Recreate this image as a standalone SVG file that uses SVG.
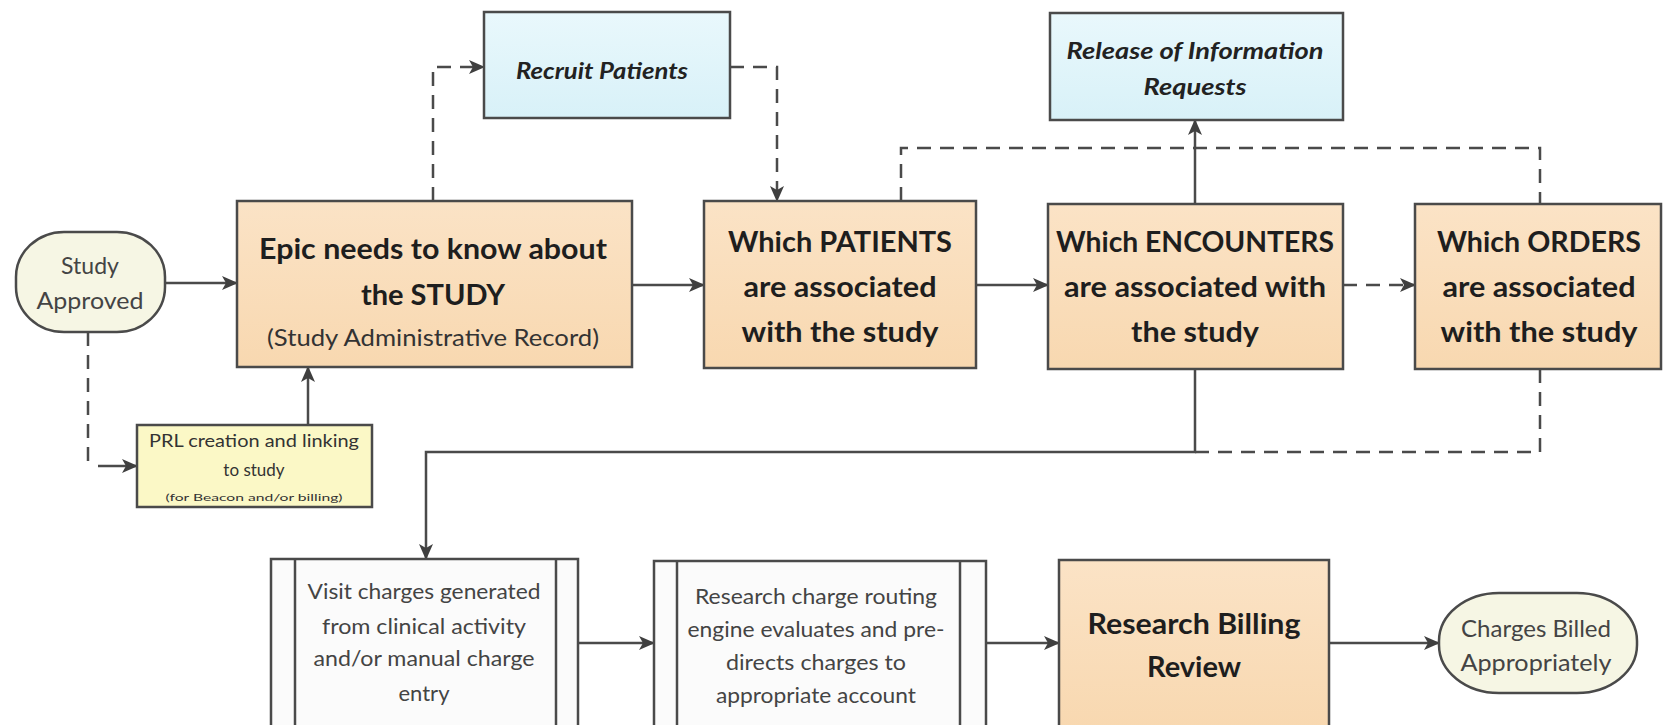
<svg xmlns="http://www.w3.org/2000/svg" width="1663" height="725" viewBox="0 0 1663 725">
<defs>
<linearGradient id="gOr" x1="0" y1="0" x2="0" y2="1"><stop offset="0" stop-color="#fbe3c6"/><stop offset="1" stop-color="#f8d8b0"/></linearGradient>
<linearGradient id="gBl" x1="0" y1="0" x2="0" y2="1"><stop offset="0" stop-color="#e9f8fc"/><stop offset="1" stop-color="#d8f1f8"/></linearGradient>
<marker id="ah" markerUnits="userSpaceOnUse" markerWidth="16" markerHeight="14" refX="15" refY="7" orient="auto"><path d="M0,0 L16,7 L0,14 L4,7 Z" fill="#3f3f3f"/></marker>
<style>
.box{stroke:#4a4a4a;stroke-width:2.5}
.or{fill:url(#gOr)}
.bl{fill:url(#gBl)}
.term{fill:#f6f6e4;stroke:#4a4a4a;stroke-width:2.5}
.wp{fill:#fbfbfb;stroke:#4a4a4a;stroke-width:2.5}
.c{fill:none;stroke:#4a4a4a;stroke-width:2.5}
.d{stroke-dasharray:14 9}
.a{marker-end:url(#ah)}
text{font-family:Lato,"Open Sans","Liberation Sans",sans-serif;text-anchor:middle;dominant-baseline:central}
.big{font-size:29px;font-weight:bold;fill:#1e1e1e}
.mid{font-size:23px;fill:#333}
.it{font-size:23px;font-weight:bold;font-style:italic;fill:#222}
.sm{font-size:22px;fill:#444}
.tm{font-size:23px;fill:#444}
.prl{font-size:17px;fill:#333}
.tiny{font-size:10px;fill:#333}
</style>
</defs>
<g id="connectors">
<path class="c a" d="M165,283 H237"/>
<path class="c a" d="M632,285 H704"/>
<path class="c a" d="M976,285 H1048"/>
<path class="c d a" d="M1343,285 H1415"/>
<path class="c d a" d="M433,201 V67 H484"/>
<path class="c d a" d="M730,67 H777 V201"/>
<path class="c d" d="M901,201 V148 H1540 V204"/>
<path class="c a" d="M1195,204 V120"/>
<path class="c d" d="M88,332 V462"/>
<path class="c a" d="M98,466 H137"/>
<path class="c a" d="M308,425 V367"/>
<path class="c a" d="M1195,369 V452 H426 V559"/>
<path class="c d" d="M1540,369 V452 H1195"/>
<path class="c a" d="M578,643 H654"/>
<path class="c a" d="M986,643 H1059"/>
<path class="c a" d="M1328,643 H1439"/>
</g>
<g id="study-approved">
<rect class="term" x="16" y="232" width="149" height="100" rx="48" ry="45"/>
<text class="tm" x="90" y="265">Study</text>
<text class="tm" x="90" y="300" textLength="107" lengthAdjust="spacingAndGlyphs">Approved</text>
</g>
<g id="epic-study">
<rect class="box or" x="237" y="201" width="395" height="166"/>
<text class="big" x="433" y="247" textLength="348" lengthAdjust="spacingAndGlyphs">Epic needs to know about</text>
<text class="big" x="433" y="293">the STUDY</text>
<text class="mid" x="433" y="337" textLength="332" lengthAdjust="spacingAndGlyphs">(Study Administrative Record)</text>
</g>
<g id="recruit-patients">
<rect class="box bl" x="484" y="12" width="246" height="106"/>
<text class="it" x="602" y="70" textLength="172" lengthAdjust="spacingAndGlyphs">Recruit Patients</text>
</g>
<g id="which-patients">
<rect class="box or" x="704" y="201" width="272" height="167"/>
<text class="big" x="840" y="240" textLength="224" lengthAdjust="spacingAndGlyphs">Which PATIENTS</text>
<text class="big" x="840" y="285" textLength="193" lengthAdjust="spacingAndGlyphs">are associated</text>
<text class="big" x="840" y="330" textLength="197" lengthAdjust="spacingAndGlyphs">with the study</text>
</g>
<g id="release-info">
<rect class="box bl" x="1050" y="13" width="293" height="107"/>
<text class="it" x="1195" y="50" textLength="257" lengthAdjust="spacingAndGlyphs">Release of Information</text>
<text class="it" x="1195" y="86" textLength="103" lengthAdjust="spacingAndGlyphs">Requests</text>
</g>
<g id="which-encounters">
<rect class="box or" x="1048" y="204" width="295" height="165"/>
<text class="big" x="1195" y="240" textLength="278" lengthAdjust="spacingAndGlyphs">Which ENCOUNTERS</text>
<text class="big" x="1195" y="285" textLength="262" lengthAdjust="spacingAndGlyphs">are associated with</text>
<text class="big" x="1195" y="330" textLength="128" lengthAdjust="spacingAndGlyphs">the study</text>
</g>
<g id="which-orders">
<rect class="box or" x="1415" y="204" width="246" height="165"/>
<text class="big" x="1539" y="240" textLength="204" lengthAdjust="spacingAndGlyphs">Which ORDERS</text>
<text class="big" x="1539" y="285" textLength="193" lengthAdjust="spacingAndGlyphs">are associated</text>
<text class="big" x="1539" y="330" textLength="197" lengthAdjust="spacingAndGlyphs">with the study</text>
</g>
<g id="prl-creation">
<rect class="box" fill="#fbf8c6" x="137" y="425" width="235" height="82"/>
<text class="prl" x="254" y="440" textLength="210" lengthAdjust="spacingAndGlyphs">PRL creation and linking</text>
<text class="prl" x="254" y="469">to study</text>
<text class="tiny" x="254" y="497" textLength="177" lengthAdjust="spacingAndGlyphs">(for Beacon and/or billing)</text>
</g>
<g id="visit-charges">
<rect class="wp" x="271" y="559" width="307" height="170"/>
<line class="c" x1="295" y1="559" x2="295" y2="729"/>
<line class="c" x1="556" y1="559" x2="556" y2="729"/>
<text class="sm" x="424" y="590" textLength="233" lengthAdjust="spacingAndGlyphs">Visit charges generated</text>
<text class="sm" x="424" y="625" textLength="204" lengthAdjust="spacingAndGlyphs">from clinical activity</text>
<text class="sm" x="424" y="657" textLength="221" lengthAdjust="spacingAndGlyphs">and/or manual charge</text>
<text class="sm" x="424" y="692">entry</text>
</g>
<g id="routing-engine">
<rect class="wp" x="654" y="561" width="332" height="168"/>
<line class="c" x1="677" y1="561" x2="677" y2="729"/>
<line class="c" x1="960" y1="561" x2="960" y2="729"/>
<text class="sm" x="816" y="595" textLength="242" lengthAdjust="spacingAndGlyphs">Research charge routing</text>
<text class="sm" x="816" y="628" textLength="257" lengthAdjust="spacingAndGlyphs">engine evaluates and pre-</text>
<text class="sm" x="816" y="661" textLength="180" lengthAdjust="spacingAndGlyphs">directs charges to</text>
<text class="sm" x="816" y="694" textLength="200" lengthAdjust="spacingAndGlyphs">appropriate account</text>
</g>
<g id="billing-review">
<rect class="box or" x="1059" y="560" width="270" height="169"/>
<text class="big" x="1194" y="622" textLength="213" lengthAdjust="spacingAndGlyphs">Research Billing</text>
<text class="big" x="1194" y="665">Review</text>
</g>
<g id="charges-billed">
<rect class="term" x="1439" y="593" width="198" height="100" rx="60" ry="48"/>
<text class="tm" x="1536" y="628" textLength="150" lengthAdjust="spacingAndGlyphs">Charges Billed</text>
<text class="tm" x="1536" y="662" textLength="151" lengthAdjust="spacingAndGlyphs">Appropriately</text>
</g>
</svg>
